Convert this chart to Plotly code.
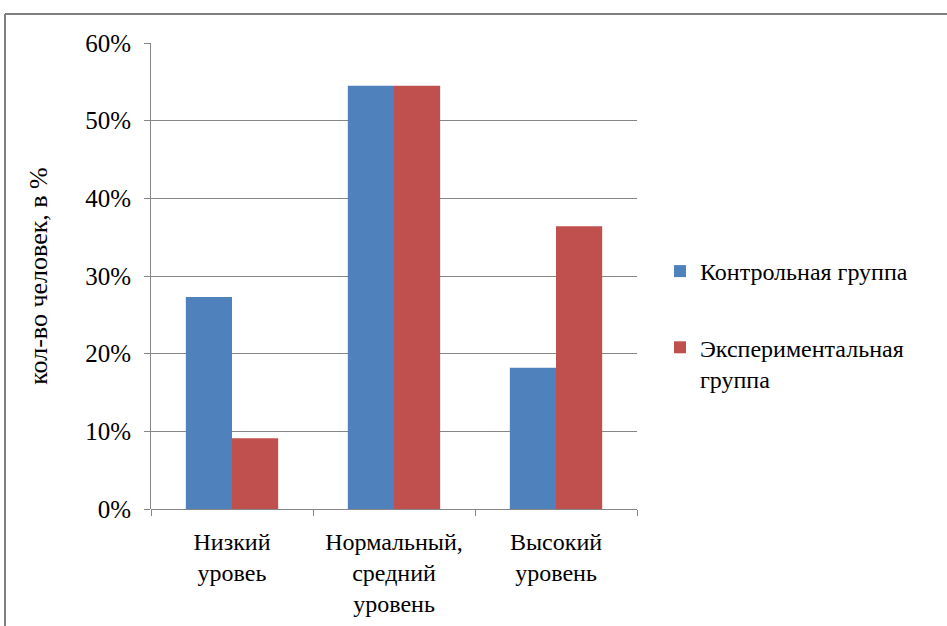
import plotly.graph_objects as go

categories = ["Низкий<br>уровеь", "Нормальный,<br>средний<br>уровень", "Высокий<br>уровень"]
control_group = [0.273, 0.545, 0.182]
experimental_group = [0.091, 0.545, 0.364]
series_names = ["Контрольная группа", "Экспериментальная<br>группа"]

W, H = 947, 626
L, R, T, B = 151, 310, 43, 117
plot_w = W - L - R
plot_h = H - T - B


def px_x(x):
    return (x - L) / plot_w


def px_y(y):
    return 1 - (y - T) / plot_h


FONT = "'Liberation Serif', 'Times New Roman', serif"
GRID = "#868686"

fig = go.Figure()
fig.add_trace(go.Bar(x=categories, y=control_group, name=series_names[0],
                     marker=dict(color="#4F81BD", line=dict(width=0)),
                     legendgroup="a"))
fig.add_trace(go.Bar(x=categories, y=experimental_group, name=series_names[1],
                     marker=dict(color="#C0504D", line=dict(width=0)),
                     legendgroup="b"))

# outer chart frame (top and left edges visible)
frame = dict(type="line", xref="paper", yref="paper",
             line=dict(color="#7F7F7F", width=2), layer="above")
fig.add_shape(**frame, x0=px_x(5), y0=px_y(14), x1=px_x(W + 5), y1=px_y(14))
fig.add_shape(**frame, x0=px_x(5), y0=px_y(14), x1=px_x(5), y1=px_y(H + 5))

fig.update_layout(
    width=W, height=H,
    margin=dict(l=L, r=R, t=T, b=B),
    paper_bgcolor="white", plot_bgcolor="white",
    barmode="group", bargap=0.43, bargroupgap=0,
    font=dict(family=FONT, size=24, color="#000000"),
    legend=dict(x=px_x(660), y=px_y(249), xanchor="left", yanchor="top",
                font=dict(family=FONT, size=24), tracegroupgap=42,
                valign="top", bgcolor="rgba(0,0,0,0)"),
    xaxis=dict(showline=False, ticks="outside", tickson="boundaries",
               ticklen=6, tickcolor=GRID, tickwidth=1,
               ticklabelstandoff=16, automargin=False,
               tickfont=dict(family=FONT, size=24)),
    yaxis=dict(range=[0, 0.6], dtick=0.1, tickformat=".0%",
               showgrid=True, gridcolor=GRID, gridwidth=1,
               showline=True, linecolor=GRID, linewidth=1,
               ticks="outside", ticklen=6, tickcolor=GRID,
               zeroline=True, zerolinecolor=GRID, zerolinewidth=1,
               ticklabelstandoff=8, automargin=False,
               tickfont=dict(family=FONT, size=25),
               title=dict(text="кол-во человек, в %",
                          font=dict(family=FONT, size=26), standoff=30)),
)

fig.write_html("out.html")
